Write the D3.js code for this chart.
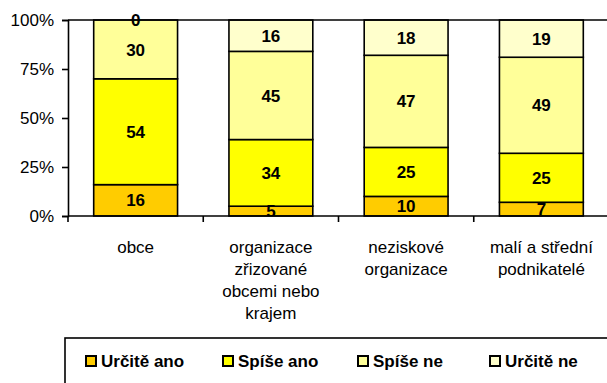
<!DOCTYPE html>
<html>
<head>
<meta charset="utf-8">
<script src="https://cdn.jsdelivr.net/npm/d3@7"></script>
<style>
  html, body { margin: 0; padding: 0; background: #fff; }
  svg { display: block; font-family: "Liberation Sans", Arial, sans-serif; }
</style>
</head>
<body>
<svg id="chart" width="607" height="383"></svg>
<script>
// Categories (multi-line labels) and shares per answer, in percent
const categories = [
  ["obce"],
  ["organizace", "zřizované", "obcemi nebo", "krajem"],
  ["neziskové", "organizace"],
  ["malí a střední", "podnikatelé"]
];
const seriesNames = ["Určitě ano", "Spíše ano", "Spíše ne", "Určitě ne"];
const urciteAno = [16, 5, 10, 7];
const spiseAno  = [54, 34, 25, 25];
const spiseNe   = [30, 45, 47, 49];
const urciteNe  = [0, 16, 18, 19];
const seriesColors = ["#FFCC00", "#FFFF00", "#FFFF99", "#FFFFCC"];
const yTicks = [0, 0.25, 0.5, 0.75, 1];

const svg = d3.select("#chart");
const plot = { left: 68, right: 609, top: 20, bottom: 216 };

// Table built from the arrays for d3.stack
const rows = categories.map((c, i) => ({
  key: c.join(" "),
  lines: c,
  "Určitě ano": urciteAno[i],
  "Spíše ano": spiseAno[i],
  "Spíše ne": spiseNe[i],
  "Určitě ne": urciteNe[i]
}));

const stacked = d3.stack()
  .keys(seriesNames)
  .offset(d3.stackOffsetExpand)(rows);

const x = d3.scaleBand()
  .domain(rows.map(d => d.key))
  .range([plot.left, plot.right])
  .paddingInner(0.38)
  .paddingOuter(0.19);

const y = d3.scaleLinear().domain([0, 1]).range([plot.bottom, plot.top]);
const color = d3.scaleOrdinal().domain(seriesNames).range(seriesColors);

// Clip for value labels: nothing below the category axis
svg.append("defs").append("clipPath").attr("id", "labelClip")
  .append("rect").attr("x", 0).attr("y", 0).attr("width", 607).attr("height", plot.bottom);

// Bars
const layers = svg.append("g").selectAll("g")
  .data(stacked).join("g")
  .attr("fill", d => color(d.key));

layers.selectAll("rect")
  .data(d => d.filter(s => s[1] - s[0] > 0))
  .join("rect")
  .attr("x", d => x(d.data.key))
  .attr("width", x.bandwidth())
  .attr("y", d => y(d[1]))
  .attr("height", d => y(d[0]) - y(d[1]))
  .attr("stroke", "#000")
  .attr("stroke-width", 1.6);

// Plot frame (top and right edges)
svg.append("path")
  .attr("d", `M${plot.left},${plot.top}H${plot.right}V${plot.bottom}`)
  .attr("fill", "none").attr("stroke", "#000").attr("stroke-width", 1.6);

// Value labels
const labels = svg.append("g").attr("clip-path", "url(#labelClip)");
stacked.forEach(layer => {
  labels.selectAll(null)
    .data(layer)
    .join("text")
    .attr("x", d => x(d.data.key) + x.bandwidth() / 2)
    .attr("y", d => (y(d[0]) + y(d[1])) / 2)
    .attr("dy", "0.36em")
    .attr("text-anchor", "middle")
    .attr("font-size", 17)
    .attr("font-weight", "bold")
    .attr("fill", "#000")
    .text(d => d.data[layer.key]);
});

// Y axis
const yAxis = svg.append("g")
  .attr("transform", `translate(${plot.left},0)`)
  .call(d3.axisLeft(y).tickValues(yTicks).tickFormat(d3.format(".0%")).tickSize(6).tickPadding(8));
yAxis.select(".domain").attr("stroke-width", 1.6);
yAxis.selectAll(".tick line").attr("stroke-width", 1.6);
yAxis.selectAll("text").attr("font-size", 17).attr("fill", "#000").attr("font-family", "Liberation Sans, Arial, sans-serif");

// X axis (ticks between categories)
const xBoundaries = d3.range(categories.length + 1).map(i => plot.left + i * (plot.right - plot.left) / categories.length);
const xAxis = svg.append("g");
xAxis.append("line")
  .attr("x1", plot.left).attr("x2", plot.right)
  .attr("y1", plot.bottom).attr("y2", plot.bottom)
  .attr("stroke", "#000").attr("stroke-width", 1.6);
xAxis.selectAll("line.tick")
  .data(xBoundaries).join("line")
  .attr("class", "tick")
  .attr("x1", d => d).attr("x2", d => d)
  .attr("y1", plot.bottom).attr("y2", plot.bottom + 6)
  .attr("stroke", "#000").attr("stroke-width", 1.6);

// Category labels
const catLabels = svg.append("g").selectAll("text")
  .data(rows).join("text")
  .attr("x", d => x(d.key) + x.bandwidth() / 2)
  .attr("y", 253)
  .attr("text-anchor", "middle")
  .attr("font-size", 17)
  .attr("fill", "#000");
catLabels.selectAll("tspan")
  .data(d => d.lines)
  .join("tspan")
  .attr("x", function () { return d3.select(this.parentNode).attr("x"); })
  .attr("dy", (d, i) => i === 0 ? 0 : 22)
  .text(d => d);

// Legend
const legend = svg.append("g");
legend.append("rect")
  .attr("x", 65).attr("y", 338)
  .attr("width", 560).attr("height", 60)
  .attr("fill", "#fff").attr("stroke", "#000").attr("stroke-width", 1.6);
const legendX = [86, 223, 358, 490];
const item = legend.selectAll("g.item")
  .data(seriesNames).join("g")
  .attr("class", "item")
  .attr("transform", (d, i) => `translate(${legendX[i]},356)`);
item.append("rect")
  .attr("width", 10).attr("height", 10)
  .attr("fill", d => color(d))
  .attr("stroke", "#000").attr("stroke-width", 2);
item.append("text")
  .attr("x", 15).attr("y", 5)
  .attr("dy", "0.36em")
  .attr("font-size", 17)
  .attr("font-weight", "bold")
  .attr("fill", "#000")
  .text(d => d);
</script>
</body>
</html>
